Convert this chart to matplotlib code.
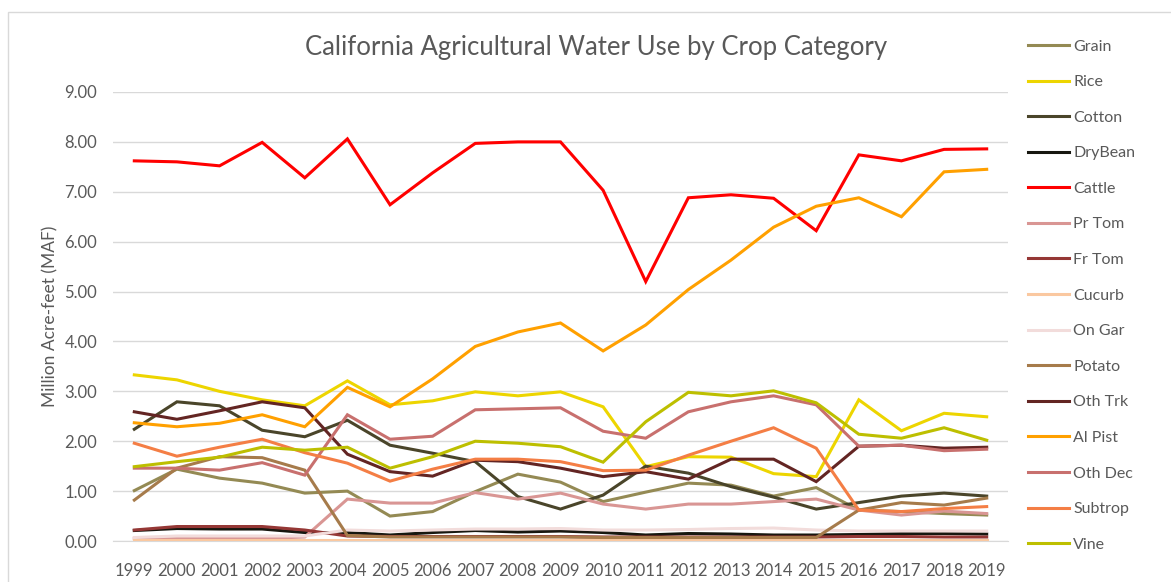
import matplotlib
matplotlib.use("Agg")
import matplotlib.pyplot as plt
from matplotlib.patches import Rectangle

years = list(range(1999, 2020))

grain   = [1.01, 1.44, 1.26, 1.16, 0.96, 1.00, 0.50, 0.59, 0.99, 1.34, 1.18, 0.79, 0.98, 1.16, 1.12, 0.90, 1.07, 0.62, 0.59, 0.55, 0.52]
rice    = [3.33, 3.23, 3.00, 2.83, 2.71, 3.21, 2.73, 2.81, 2.99, 2.91, 2.99, 2.69, 1.49, 1.69, 1.68, 1.35, 1.29, 2.83, 2.21, 2.56, 2.49]
cotton  = [2.24, 2.79, 2.71, 2.22, 2.09, 2.42, 1.92, 1.76, 1.59, 0.89, 0.64, 0.92, 1.50, 1.36, 1.09, 0.88, 0.64, 0.77, 0.90, 0.96, 0.90]
drybean = [0.21, 0.25, 0.24, 0.24, 0.17, 0.17, 0.12, 0.17, 0.21, 0.18, 0.20, 0.17, 0.12, 0.15, 0.14, 0.12, 0.12, 0.13, 0.15, 0.15, 0.14]
cattle  = [7.62, 7.60, 7.52, 7.99, 7.28, 8.06, 6.74, 7.38, 7.97, 8.00, 8.00, 7.03, 5.20, 6.88, 6.94, 6.87, 6.22, 7.74, 7.62, 7.85, 7.86]
prtom   = [0.05, 0.06, 0.06, 0.05, 0.08, 0.84, 0.76, 0.76, 0.97, 0.84, 0.96, 0.74, 0.64, 0.74, 0.74, 0.79, 0.84, 0.62, 0.52, 0.60, 0.55]
frtom   = [0.22, 0.29, 0.29, 0.29, 0.22, 0.10, 0.09, 0.09, 0.09, 0.09, 0.09, 0.08, 0.08, 0.08, 0.08, 0.08, 0.08, 0.09, 0.09, 0.08, 0.08]
cucurb  = [0.03, 0.03, 0.03, 0.03, 0.03, 0.03, 0.03, 0.03, 0.03, 0.03, 0.03, 0.03, 0.03, 0.03, 0.03, 0.03, 0.03, 0.03, 0.03, 0.03, 0.03]
ongar   = [0.07, 0.10, 0.10, 0.10, 0.10, 0.22, 0.20, 0.22, 0.24, 0.24, 0.25, 0.22, 0.22, 0.23, 0.25, 0.26, 0.22, 0.20, 0.20, 0.20, 0.20]
potato  = [0.82, 1.46, 1.69, 1.67, 1.42, 0.11, 0.08, 0.08, 0.08, 0.08, 0.08, 0.07, 0.07, 0.07, 0.07, 0.07, 0.07, 0.62, 0.77, 0.72, 0.86]
othtrk  = [2.59, 2.44, 2.61, 2.79, 2.67, 1.74, 1.39, 1.30, 1.62, 1.59, 1.46, 1.29, 1.39, 1.24, 1.64, 1.64, 1.19, 1.90, 1.92, 1.86, 1.88]
alpist  = [2.37, 2.29, 2.36, 2.53, 2.29, 3.08, 2.69, 3.25, 3.90, 4.19, 4.37, 3.81, 4.33, 5.04, 5.63, 6.29, 6.71, 6.88, 6.50, 7.40, 7.45]
othdec  = [1.46, 1.46, 1.42, 1.57, 1.32, 2.53, 2.04, 2.10, 2.63, 2.65, 2.67, 2.20, 2.06, 2.59, 2.79, 2.91, 2.73, 1.90, 1.92, 1.81, 1.84]
subtrop = [1.96, 1.70, 1.88, 2.04, 1.77, 1.56, 1.20, 1.44, 1.64, 1.64, 1.59, 1.41, 1.42, 1.72, 2.00, 2.27, 1.86, 0.62, 0.59, 0.65, 0.69]
vine    = [1.49, 1.59, 1.68, 1.88, 1.82, 1.88, 1.46, 1.69, 2.00, 1.96, 1.89, 1.58, 2.39, 2.98, 2.91, 3.01, 2.77, 2.14, 2.06, 2.27, 2.02]

series_names = ["Grain", "Rice", "Cotton", "DryBean", "Cattle", "Pr Tom", "Fr Tom", "Cucurb",
                "On Gar", "Potato", "Oth Trk", "Al Pist", "Oth Dec", "Subtrop", "Vine"]
series_values = [grain, rice, cotton, drybean, cattle, prtom, frtom, cucurb,
                 ongar, potato, othtrk, alpist, othdec, subtrop, vine]
series_colors = ["#948A54", "#EDD500", "#4A452A", "#17170F", "#FF0000", "#D99694", "#953735", "#FAC8A0",
                 "#F2DCDB", "#A67B4B", "#632523", "#FFA000", "#C8706E", "#F47E45", "#BDBF00"]

ytick_vals = [0, 1, 2, 3, 4, 5, 6, 7, 8, 9]

plt.rcParams['font.family'] = ['Lato', 'DejaVu Sans']

fig = plt.figure(figsize=(11.71, 5.82), dpi=100)
W, H = 1171, 582

# chart border
fig.patches.append(Rectangle((8 / W, -0.05), 1.1, 1 - 12 / H + 0.05, transform=fig.transFigure,
                             fill=False, edgecolor="#D9D9D9", linewidth=1.0, zorder=0))

ax = fig.add_axes([113 / W, 1 - 541 / H, (1008 - 113) / W, (541 - 92) / H])

for name, vals, col in zip(series_names, series_values, series_colors):
    ax.plot(years, vals, color=col, linewidth=2.2, label=name, solid_joinstyle='miter', zorder=3)

ax.set_xlim(1998.5, 2019.5)
ax.set_ylim(0, 9)
ax.set_yticks(ytick_vals)
ax.set_yticklabels([f"{v:.2f}" for v in ytick_vals])
ax.set_xticks(years)
ax.set_xticklabels([str(y) for y in years])
ax.grid(axis='y', color="#D9D9D9", linewidth=1.0, zorder=0)
ax.set_axisbelow(True)
for s in ["top", "right", "left"]:
    ax.spines[s].set_visible(False)
ax.spines["bottom"].set_color("#D9D9D9")
ax.tick_params(axis='both', length=0, labelsize=12, labelcolor="#595959")
ax.tick_params(axis='y', pad=11.5)
ax.tick_params(axis='x', pad=15.5)
ax.set_ylabel("Million Acre-feet (MAF)", fontsize=12.5, color="#595959", labelpad=4)

fig.text(596 / W, 1 - 47 / H, "California Agricultural Water Use by Crop Category",
         ha="center", va="center", fontsize=18.5, color="#595959")

leg = fig.legend(loc="upper left", bbox_to_anchor=(1022 / W, 1 - 33 / H), frameon=False,
                 fontsize=11.5, handlelength=2.55, handletextpad=0.25, labelspacing=1.34,
                 borderaxespad=0)
for t in leg.get_texts():
    t.set_color("#595959")

fig.savefig("out.png", dpi=100)
